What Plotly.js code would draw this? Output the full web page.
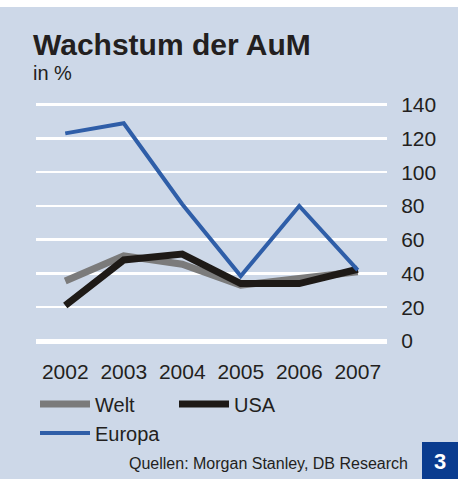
<!DOCTYPE html>
<html>
<head>
<meta charset="utf-8">
<script src="https://cdn.plot.ly/plotly-3.0.1.min.js"></script>
<style>
html,body{margin:0;padding:0;background:#ffffff;}
#chart{width:458px;height:479px;}
</style>
</head>
<body>
<div id="chart"></div>
<script>
var years = ['2002','2003','2004','2005','2006','2007'];
var welt = [35.5, 50.5, 45.5, 33, 37, 41];
var usa = [21, 48, 51.5, 34, 34, 42.5];
var europa = [123, 129, 81, 38.5, 80, 42];
var yTicks = [0, 20, 40, 60, 80, 100, 120, 140];

var bg = '#cdd8e8';
var fontFam = '"Liberation Sans", Arial, Helvetica, sans-serif';

// plot area in pixels
var L = 36, R = 387, T = 103, B = 341;
var W = R - L, H = B - T;
function px(x) { return (x - L) / W; }
function py(y) { return (B - y) / H; }

var traces = [
  {x: years, y: welt, name: 'Welt', type: 'scatter', mode: 'lines',
   line: {color: '#7b7b7b', width: 7}, legend: 'legend'},
  {x: years, y: usa, name: 'USA', type: 'scatter', mode: 'lines',
   line: {color: '#1e1a17', width: 7}, legend: 'legend'},
  {x: years, y: europa, name: 'Europa', type: 'scatter', mode: 'lines',
   line: {color: '#2f5ea8', width: 4}, legend: 'legend2'}
];

var legendBase = {
  orientation: 'h', xanchor: 'left', yanchor: 'middle',
  bgcolor: 'rgba(0,0,0,0)', font: {size: 20, color: '#231f20', family: fontFam},
  entrywidth: 74, entrywidthmode: 'pixels', traceorder: 'normal',
  itemwidth: 50, tracegroupgap: 0, borderwidth: 0
};

var layout = {
  width: 458, height: 479,
  paper_bgcolor: bg, plot_bgcolor: bg,
  margin: {l: L, r: 458 - R, t: T, b: 479 - B, pad: 0},
  font: {family: fontFam, color: '#231f20', size: 20},
  showlegend: true,
  legend: Object.assign({}, legendBase, {x: px(35), y: py(404)}),
  legend2: Object.assign({}, legendBase, {x: px(35), y: py(433)}),
  xaxis: {
    type: 'category', range: [-0.5, 5.5], showgrid: false, zeroline: false,
    showline: false, ticks: 'outside', ticklen: 12, tickcolor: 'rgba(0,0,0,0)',
    tickfont: {size: 21, color: '#231f20'}, fixedrange: true
  },
  yaxis: {
    range: [0, 141], side: 'right', tickvals: yTicks, ticktext: yTicks.map(String),
    showgrid: true, gridcolor: '#ffffff', gridwidth: 2.5,
    zeroline: true, zerolinecolor: '#ffffff', zerolinewidth: 5,
    showline: false, ticks: 'outside', ticklen: 9, tickcolor: 'rgba(0,0,0,0)',
    tickfont: {size: 21, color: '#231f20'}, fixedrange: true
  },
  shapes: [
    {type: 'rect', xref: 'paper', yref: 'paper',
     x0: px(422), x1: px(458), y0: py(479), y1: py(442),
     line: {width: 0}, fillcolor: '#0a3c8f', layer: 'above'},
    {type: 'rect', xref: 'paper', yref: 'paper',
     x0: px(0), x1: px(458), y0: py(7), y1: py(0),
     line: {width: 0}, fillcolor: '#ffffff', layer: 'above'}
  ],
  annotations: [
    {text: '<b>Wachstum der AuM</b>', xref: 'paper', yref: 'paper',
     x: px(31), xanchor: 'left', y: py(44), yanchor: 'middle',
     showarrow: false, font: {size: 30, color: '#231f20', family: fontFam}},
    {text: 'in %', xref: 'paper', yref: 'paper',
     x: px(31), xanchor: 'left', y: py(73), yanchor: 'middle',
     showarrow: false, font: {size: 20, color: '#231f20', family: fontFam}},
    {text: 'Quellen: Morgan Stanley, DB Research', xref: 'paper', yref: 'paper',
     x: px(410), xanchor: 'right', y: py(463), yanchor: 'middle',
     showarrow: false, font: {size: 16, color: '#231f20', family: fontFam}},
    {text: '<b>3</b>', xref: 'paper', yref: 'paper',
     x: px(440), xanchor: 'center', y: py(461), yanchor: 'middle',
     showarrow: false, font: {size: 22, color: '#ffffff', family: fontFam}}
  ]
};

Plotly.newPlot('chart', traces, layout, {displayModeBar: false, staticPlot: true});
</script>
</body>
</html>
